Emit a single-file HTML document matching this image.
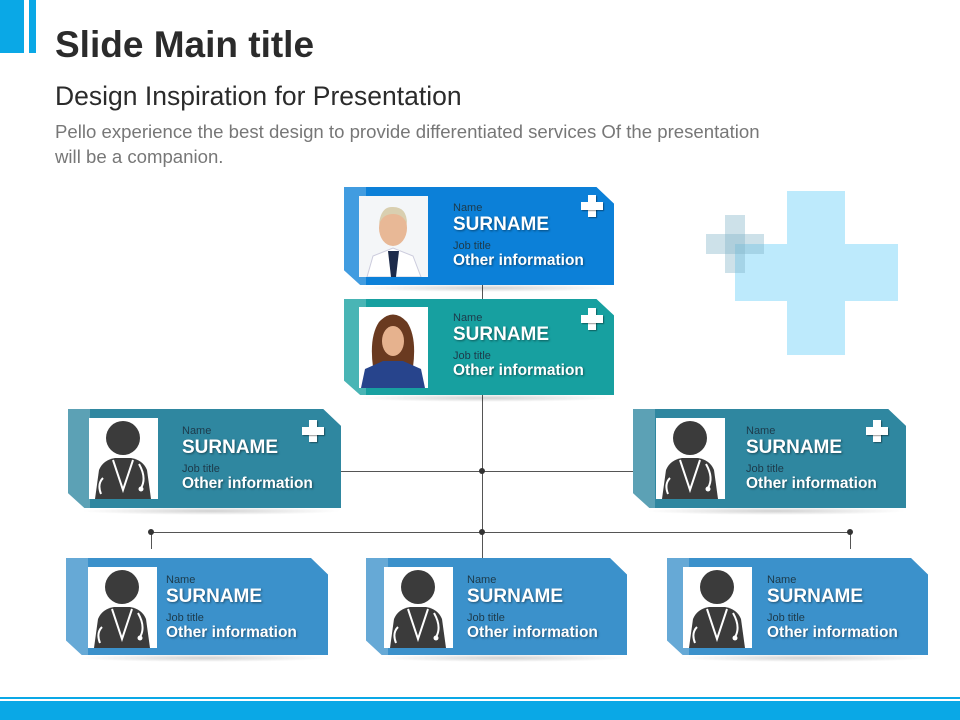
<!DOCTYPE html>
<html><head><meta charset="utf-8"><style>
body{margin:0;width:960px;height:720px;position:relative;background:#fff;font-family:"Liberation Sans",Arial,sans-serif;overflow:hidden}
.a{position:absolute}
.card{position:absolute;clip-path:polygon(0 0,93.5% 0,100% 17%,100% 100%,6% 100%,0 85%)}
.card .hl{position:absolute;left:0;top:0;bottom:0;width:22px;background:rgba(255,255,255,.22)}
.ph{position:absolute;background:#fff;width:69px;height:81px;overflow:hidden}
.t{position:absolute;color:#fff}
.t .n{font-size:11px;color:#1d3a4a;line-height:12px}
.t .s{font-size:19px;font-weight:bold;line-height:21px;text-shadow:1px 1px 2px rgba(0,0,0,.45)}
.t .j{font-size:11px;color:#1d3a4a;line-height:12px;margin-top:5px}
.t .o{font-size:15.5px;font-weight:bold;line-height:18px;text-shadow:1px 1px 2px rgba(0,0,0,.45)}
.sh{position:absolute;height:8px;border-radius:50%;background:radial-gradient(ellipse at center,rgba(0,0,0,.18),rgba(0,0,0,0) 70%)}
.plus{position:absolute;width:22px;height:22px}
.plus:before,.plus:after{content:"";position:absolute;background:#fff;box-shadow:1px 1px 1px rgba(0,0,0,.4)}
.plus:before{left:7px;top:0;width:8px;height:22px}
.plus:after{left:0;top:7px;width:22px;height:8px}
.ln{position:absolute;background:#555}
.dot{position:absolute;width:6px;height:6px;border-radius:50%;background:#333}
</style></head><body>
<div class="a" style="left:0;top:0;width:24px;height:53px;background:#0aa8e6"></div>
<div class="a" style="left:29px;top:0;width:7px;height:53px;background:#0aa8e6"></div>
<div class="a" style="left:55px;top:24px;font-size:37px;font-weight:bold;color:#2b2b2b">Slide Main title</div>
<div class="a" style="left:55px;top:81px;font-size:26.5px;color:#2b2b2b">Design Inspiration for Presentation</div>
<div class="a" style="left:55px;top:119px;font-size:18.6px;color:#777;line-height:25px;width:720px">Pello experience the best design to provide differentiated services Of the presentation will be a companion.</div>

<div class="a" style="left:787px;top:191px;width:58px;height:164px;background:#bdeafc"></div>
<div class="a" style="left:735px;top:244px;width:163px;height:57px;background:#bdeafc"></div>
<div class="a" style="left:725px;top:215px;width:20px;height:58px;background:rgba(130,180,200,.4)"></div>
<div class="a" style="left:706px;top:234px;width:58px;height:20px;background:rgba(130,180,200,.4)"></div>

<div class="ln" style="left:482px;top:285px;width:1px;height:273px"></div>
<div class="ln" style="left:341px;top:471px;width:292px;height:1px"></div>
<div class="ln" style="left:151px;top:532px;width:699px;height:1px"></div>
<div class="ln" style="left:151px;top:532px;width:1px;height:17px"></div>
<div class="ln" style="left:850px;top:532px;width:1px;height:17px"></div>
<div class="dot" style="left:479px;top:468px"></div>
<div class="dot" style="left:148px;top:529px"></div>
<div class="dot" style="left:479px;top:529px"></div>
<div class="dot" style="left:847px;top:529px"></div>

<div class="sh" style="left:355px;top:284px;width:260px"></div>
<div class="sh" style="left:355px;top:394px;width:260px"></div>
<div class="sh" style="left:80px;top:507px;width:262px"></div>
<div class="sh" style="left:645px;top:507px;width:262px"></div>
<div class="sh" style="left:78px;top:654px;width:252px"></div>
<div class="sh" style="left:378px;top:654px;width:252px"></div>
<div class="sh" style="left:679px;top:654px;width:252px"></div>

<div class="card" style="left:344px;top:187px;width:270px;height:98px;background:#0c80d8"><div class="hl"></div></div>
<div class="ph" style="left:359px;top:196px"><svg width="69" height="81"><rect width="69" height="81" fill="#f4f6f8"/><path d="M8 81 L14 60 L34 52 L54 60 L62 81Z" fill="#fff" stroke="#ccd" /><path d="M29 55 L40 55 L37 81 L32 81Z" fill="#1c2a4a"/><ellipse cx="34" cy="32" rx="14" ry="18" fill="#e8b896"/><path d="M20 28 Q22 10 34 11 Q48 11 48 28 Q44 18 34 18 Q24 18 20 28Z" fill="#d9cfb0"/></svg></div>
<div class="t" style="left:453px;top:202px"><div class="n">Name</div><div class="s">SURNAME</div><div class="j">Job title</div><div class="o">Other information</div></div>
<div class="plus" style="left:581px;top:195px"></div>

<div class="card" style="left:344px;top:299px;width:270px;height:96px;background:#17a0a0"><div class="hl"></div></div>
<div class="ph" style="left:359px;top:307px"><svg width="69" height="81"><rect width="69" height="81" fill="#fff"/><path d="M14 60 Q10 30 20 15 Q34 0 48 15 Q58 30 54 60Z" fill="#6a3a20"/><ellipse cx="34" cy="34" rx="11" ry="15" fill="#e6b28e"/><path d="M2 81 L6 62 L24 54 L44 54 L62 62 L66 81Z" fill="#27448c"/></svg></div>
<div class="t" style="left:453px;top:312px"><div class="n">Name</div><div class="s">SURNAME</div><div class="j">Job title</div><div class="o">Other information</div></div>
<div class="plus" style="left:581px;top:308px"></div>

<div class="card" style="left:68px;top:409px;width:273px;height:99px;background:#2f87a0"><div class="hl"></div></div>
<div class="ph" style="left:89px;top:418px"><svg width="69" height="81"><use href="#doc"/></svg></div>
<div class="t" style="left:182px;top:425px"><div class="n">Name</div><div class="s">SURNAME</div><div class="j">Job title</div><div class="o">Other information</div></div>
<div class="plus" style="left:302px;top:420px"></div>

<div class="card" style="left:633px;top:409px;width:273px;height:99px;background:#2f87a0"><div class="hl"></div></div>
<div class="ph" style="left:656px;top:418px"><svg width="69" height="81"><use href="#doc"/></svg></div>
<div class="t" style="left:746px;top:425px"><div class="n">Name</div><div class="s">SURNAME</div><div class="j">Job title</div><div class="o">Other information</div></div>
<div class="plus" style="left:866px;top:420px"></div>

<div class="card" style="left:66px;top:558px;width:262px;height:97px;background:#3b91cb"><div class="hl"></div></div>
<div class="ph" style="left:88px;top:567px"><svg width="69" height="81"><use href="#doc"/></svg></div>
<div class="t" style="left:166px;top:574px"><div class="n">Name</div><div class="s">SURNAME</div><div class="j">Job title</div><div class="o">Other information</div></div>

<div class="card" style="left:366px;top:558px;width:261px;height:97px;background:#3b91cb"><div class="hl"></div></div>
<div class="ph" style="left:384px;top:567px"><svg width="69" height="81"><use href="#doc"/></svg></div>
<div class="t" style="left:467px;top:574px"><div class="n">Name</div><div class="s">SURNAME</div><div class="j">Job title</div><div class="o">Other information</div></div>

<div class="card" style="left:667px;top:558px;width:261px;height:97px;background:#3b91cb"><div class="hl"></div></div>
<div class="ph" style="left:683px;top:567px"><svg width="69" height="81"><use href="#doc"/></svg></div>
<div class="t" style="left:767px;top:574px"><div class="n">Name</div><div class="s">SURNAME</div><div class="j">Job title</div><div class="o">Other information</div></div>

<svg width="0" height="0" style="position:absolute"><defs><g id="doc"><circle cx="34" cy="20" r="17" fill="#3b3b3b"/><path d="M6 81 L10 52 Q14 42 26 40 L42 40 Q54 42 58 52 L62 81Z" fill="#3b3b3b"/><path d="M24 42 L34 72 L44 42" fill="none" stroke="#fff" stroke-width="2"/><path d="M14 60 Q8 66 12 76 M50 46 Q58 60 52 70" fill="none" stroke="#fff" stroke-width="2"/><circle cx="52" cy="71" r="2.5" fill="#fff"/></g></defs></svg>

<div class="a" style="left:0;top:697px;width:960px;height:2px;background:#0aa8e6"></div>
<div class="a" style="left:0;top:701px;width:960px;height:19px;background:#0aa8e6"></div>
</body></html>
